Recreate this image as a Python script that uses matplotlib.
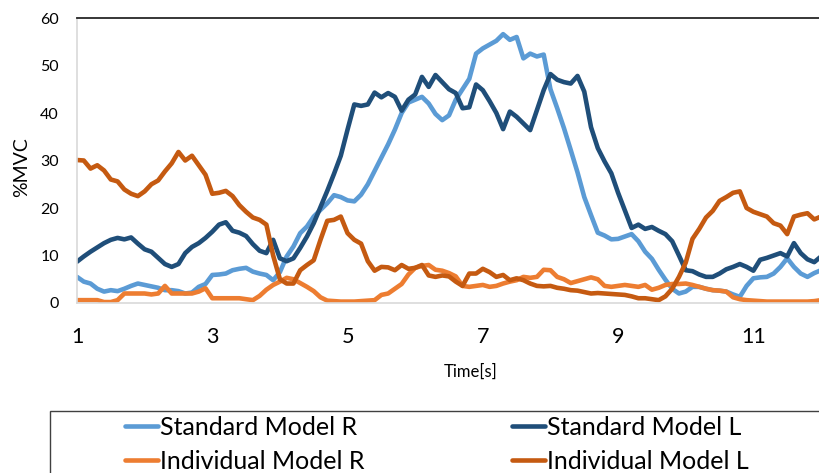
import numpy as np
import matplotlib
matplotlib.use("Agg")
import matplotlib.pyplot as plt
from matplotlib.patches import Rectangle

plt.rcParams["font.family"] = ["Lato", "DejaVu Sans"]

# time axis, 0.1 s steps
time_s = np.round(np.arange(1.0, 12.05, 0.1), 1)

std_R = [
    5.5, 4.5, 4.1, 3.0, 2.4, 2.7, 2.5, 3.0, 3.6, 4.1,
    3.8, 3.5, 3.2, 2.7, 2.7, 2.5, 2.0, 2.2, 3.4, 4.0,
    5.9, 6.0, 6.2, 6.9, 7.2, 7.4, 6.6, 6.2, 5.9, 4.8,
    6.5, 9.8, 11.9, 14.7, 16.1, 18.2, 19.6, 21.0, 22.7, 22.3,
    21.6, 21.4, 22.8, 25.0, 27.8, 30.6, 33.4, 36.5, 40.0, 42.2,
    42.8, 43.4, 42.0, 39.8, 38.5, 39.5, 42.8, 45.0, 47.2, 52.5,
    53.6, 54.4, 55.2, 56.6, 55.4, 56.0, 51.5, 52.5, 51.9, 52.3,
    45.0, 41.0, 36.8, 32.2, 27.5, 22.3, 18.5, 14.8, 14.2, 13.4,
    13.5, 14.0, 14.5, 13.0, 10.8, 9.3, 7.0, 4.9, 3.0, 2.0,
    2.4, 3.4, 3.4, 3.0, 2.7, 2.6, 2.4, 1.8, 1.3, 3.6,
    5.2, 5.4, 5.5, 6.2, 7.6, 9.4, 7.6, 6.2, 5.5, 6.3,
    6.9,
]

std_L = [
    8.7, 9.8, 10.8, 11.7, 12.6, 13.3, 13.7, 13.4, 13.8, 12.5,
    11.3, 10.8, 9.5, 8.2, 7.6, 8.2, 10.5, 11.8, 12.6, 13.7,
    15.0, 16.5, 17.0, 15.2, 14.8, 14.1, 12.4, 11.0, 10.5, 13.3,
    9.4, 8.8, 9.4, 11.6, 14.0, 16.8, 20.2, 23.6, 27.2, 31.0,
    36.5, 41.8, 41.5, 41.8, 44.3, 43.3, 44.2, 43.4, 40.5, 42.8,
    43.9, 47.6, 45.5, 48.0, 46.5, 45.0, 44.2, 41.0, 41.2, 46.0,
    44.8, 42.5, 40.0, 36.6, 40.3, 39.2, 37.8, 36.4, 40.6, 44.8,
    48.2, 47.0, 46.5, 46.2, 47.8, 44.5, 37.0, 32.6, 29.8, 27.3,
    23.2, 19.5, 15.8, 16.5, 15.6, 16.0, 15.2, 14.5, 13.0, 10.0,
    6.9, 6.7, 6.0, 5.5, 5.5, 6.2, 7.1, 7.6, 8.2, 7.6,
    6.8, 9.1, 9.5, 10.0, 10.5, 9.8, 12.6, 10.5, 9.2, 8.6,
    9.8,
]

ind_R = [
    0.6, 0.6, 0.6, 0.6, 0.2, 0.2, 0.6, 2.0, 2.0, 2.0,
    2.0, 1.8, 2.0, 3.6, 2.0, 2.0, 2.0, 2.0, 2.4, 3.1,
    1.0, 1.0, 1.0, 1.0, 1.0, 0.8, 0.6, 1.5, 2.8, 3.8,
    4.5, 5.3, 5.0, 4.2, 3.4, 2.5, 1.2, 0.5, 0.4, 0.3,
    0.3, 0.3, 0.4, 0.5, 0.6, 1.7, 2.0, 3.0, 4.0, 6.0,
    7.4, 7.8, 8.0, 7.0, 6.8, 6.3, 5.6, 3.6, 3.4, 3.6,
    3.8, 3.4, 3.6, 4.1, 4.5, 4.8, 5.5, 5.3, 5.5, 7.0,
    6.9, 5.5, 5.0, 4.2, 4.6, 5.0, 5.4, 5.0, 3.6, 3.4,
    3.6, 3.8, 3.6, 3.4, 3.8, 2.8, 3.2, 3.8, 4.0, 4.0,
    4.1, 3.8, 3.4, 3.0, 2.7, 2.6, 2.4, 1.2, 0.8, 0.6,
    0.5, 0.4, 0.3, 0.3, 0.3, 0.3, 0.3, 0.3, 0.3, 0.4,
    0.6,
]

ind_L = [
    30.1, 30.0, 28.3, 29.0, 27.9, 26.0, 25.6, 23.9, 23.0, 22.5,
    23.5, 25.0, 25.8, 27.7, 29.4, 31.8, 30.0, 31.0, 29.0, 27.0,
    23.0, 23.2, 23.6, 22.5, 20.6, 19.2, 18.0, 17.5, 16.5, 10.0,
    5.0, 4.1, 4.1, 6.9, 8.0, 9.0, 13.3, 17.3, 17.5, 18.2,
    14.7, 13.3, 12.5, 8.8, 6.8, 7.6, 7.5, 6.9, 8.0, 7.2,
    7.4, 8.0, 5.8, 5.5, 5.8, 5.6, 4.5, 3.6, 6.2, 6.2,
    7.2, 6.5, 5.5, 5.9, 4.8, 5.2, 4.8, 4.1, 3.6, 3.5,
    3.6, 3.2, 3.0, 2.7, 2.6, 2.3, 2.0, 2.1, 2.0, 1.9,
    1.8, 1.7, 1.4, 1.0, 1.0, 0.8, 0.6, 1.4, 3.0, 5.5,
    8.5, 13.5, 15.6, 18.0, 19.4, 21.5, 22.3, 23.2, 23.5, 20.0,
    19.2, 18.7, 18.2, 16.8, 16.3, 14.5, 18.2, 18.6, 18.9, 17.6,
    18.2,
]

series = [
    ("Standard Model R", std_R, "#5B9BD5"),
    ("Standard Model L", std_L, "#1F4E79"),
    ("Individual Model R", ind_R, "#ED7D31"),
    ("Individual Model L", ind_L, "#C55A11"),
]
x_ticks = [1, 3, 5, 7, 9, 11]
y_ticks = [0, 10, 20, 30, 40, 50, 60]

W, H = 819, 473
fig = plt.figure(figsize=(W / 100, H / 100), dpi=100)
ax = fig.add_axes([77 / W, (H - 303) / H, (821 - 77) / W, (303 - 18) / H])

lines = {}
for name, vals, color in series:
    (ln,) = ax.plot(time_s, vals, color=color, lw=3.3, solid_joinstyle="round",
                    solid_capstyle="round", label=name)
    lines[name] = ln

ax.set_xlim(1, 12)
ax.set_ylim(0, 60)
ax.set_xticks(x_ticks)
ax.set_yticks(y_ticks)
ax.tick_params(axis="both", length=0)
ax.tick_params(axis="x", labelsize=15.5, pad=17, colors="#000000")
ax.tick_params(axis="y", labelsize=11.5, pad=13)

for side in ["left", "bottom"]:
    ax.spines[side].set_color("#D9D9D9")
    ax.spines[side].set_linewidth(1.2)
ax.spines["right"].set_visible(False)
ax.spines["top"].set_color("#262626")
ax.spines["top"].set_linewidth(1.3)

fig.text(471 / W, 1 - 372 / H, "Time[s]", ha="center", va="center", fontsize=12)
fig.text(22 / W, 1 - 167 / H, "%MVC", ha="center", va="center", rotation=90, fontsize=14)

# legend box runs off the right and bottom edges
fig.patches.append(Rectangle((50 / W, -0.05), 1.0, (H - 411) / H + 0.05,
                             transform=fig.transFigure, fill=False,
                             edgecolor="#404040", lw=1.0))

order = ["Standard Model R", "Individual Model R", "Standard Model L", "Individual Model L"]
fig.legend([lines[n] for n in order], order, ncol=2, frameon=False,
           loc="upper left", bbox_to_anchor=(125 / W, 1 - 416 / H),
           borderaxespad=0, borderpad=0, fontsize=18, handlelength=1.32,
           handletextpad=0.08, columnspacing=5.9, labelspacing=0.43)

fig.savefig("out.png", dpi=100)
